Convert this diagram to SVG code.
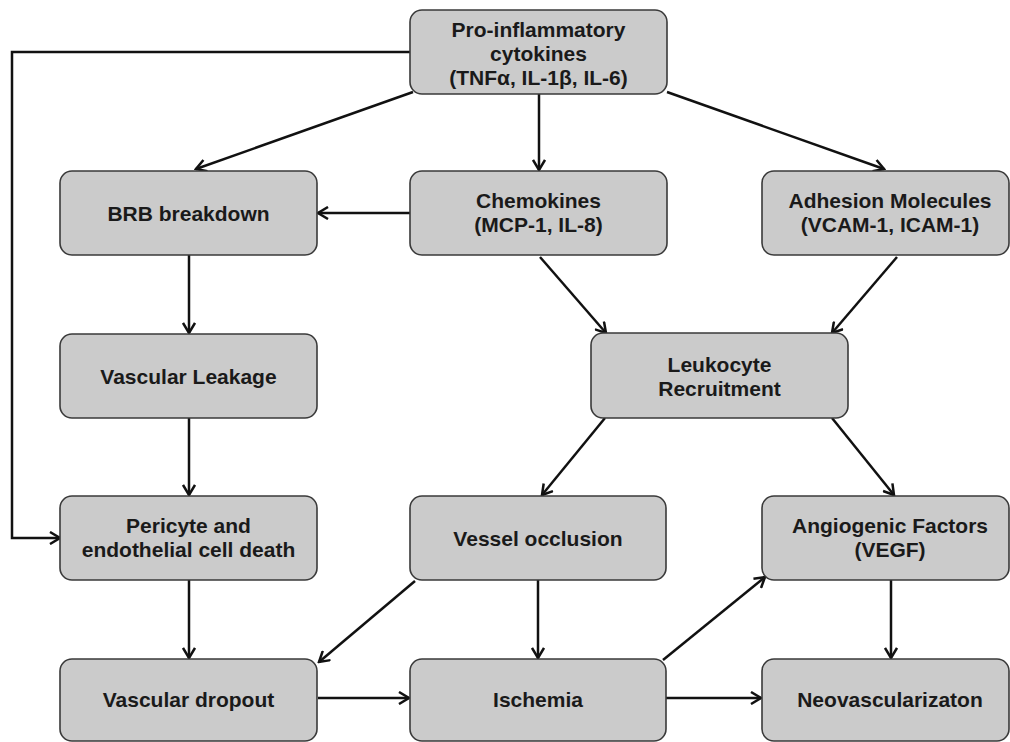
<svg xmlns="http://www.w3.org/2000/svg" width="1010" height="742" viewBox="0 0 1010 742">
<defs>
<style>
.box{fill:#cbcbcb;stroke:#3a3a3a;stroke-width:1.6}
.lbl{font-family:"Liberation Sans",Arial,sans-serif;font-weight:bold;font-size:21px;fill:#1a1a1a;text-anchor:middle}
.edge{fill:none;stroke:#111;stroke-width:2.5;marker-end:url(#arr)}
</style>
<marker id="arr" viewBox="0 0 14 14" refX="12" refY="7" markerWidth="14" markerHeight="14" markerUnits="userSpaceOnUse" orient="auto">
<path d="M2,1 L12,7 L2,13" fill="none" stroke="#111" stroke-width="2.5"/>
</marker>
</defs>
<rect width="1010" height="742" fill="#ffffff"/>
<g id="connectors">
<path class="edge" d="M413,92 L196,169"/>
<path class="edge" d="M539,94 L539,170"/>
<path class="edge" d="M667,92 L884,169"/>
<path class="edge" d="M410,52 L12,52 L12,538 L60,538"/>
<path class="edge" d="M410,213 L318,213"/>
<path class="edge" d="M189,255 L189,333"/>
<path class="edge" d="M540,257 L606,333"/>
<path class="edge" d="M897,257 L832,333"/>
<path class="edge" d="M189,418 L189,495"/>
<path class="edge" d="M605,418 L542,495"/>
<path class="edge" d="M832,418 L894,495"/>
<path class="edge" d="M189,580 L189,658"/>
<path class="edge" d="M415,581 L319,662"/>
<path class="edge" d="M538,580 L538,658"/>
<path class="edge" d="M663,660 L765,577"/>
<path class="edge" d="M891,580 L891,658"/>
<path class="edge" d="M318,698 L409,698"/>
<path class="edge" d="M666,698 L761,698"/>
</g>
<g id="n-cytokines"><rect class="box" x="410" y="10" width="257" height="84" rx="12"/>
<text class="lbl" x="538.5" y="37">Pro-inflammatory</text><text class="lbl" x="538.5" y="61">cytokines</text><text class="lbl" x="538.5" y="85">(TNFα, IL-1β, IL-6)</text></g>
<g id="n-brb"><rect class="box" x="60" y="171" width="257" height="84" rx="12"/>
<text class="lbl" x="188.5" y="220.5">BRB breakdown</text></g>
<g id="n-chemokines"><rect class="box" x="410" y="171" width="257" height="84" rx="12"/>
<text class="lbl" x="538.5" y="208">Chemokines</text><text class="lbl" x="538.5" y="232">(MCP-1, IL-8)</text></g>
<g id="n-adhesion"><rect class="box" x="762" y="171" width="247" height="84" rx="12"/>
<text class="lbl" x="890" y="208">Adhesion Molecules</text><text class="lbl" x="890" y="232">(VCAM-1, ICAM-1)</text></g>
<g id="n-leakage"><rect class="box" x="60" y="334" width="257" height="84" rx="12"/>
<text class="lbl" x="188.5" y="383.5">Vascular Leakage</text></g>
<g id="n-leukocyte"><rect class="box" x="591" y="333" width="257" height="85" rx="12"/>
<text class="lbl" x="719.5" y="372">Leukocyte</text><text class="lbl" x="719.5" y="396">Recruitment</text></g>
<g id="n-pericyte"><rect class="box" x="60" y="496" width="257" height="84" rx="12"/>
<text class="lbl" x="188.5" y="533">Pericyte and</text><text class="lbl" x="188.5" y="557">endothelial cell death</text></g>
<g id="n-vessel"><rect class="box" x="410" y="496" width="256" height="84" rx="12"/>
<text class="lbl" x="538" y="545.5">Vessel occlusion</text></g>
<g id="n-angiogenic"><rect class="box" x="762" y="496" width="247" height="84" rx="12"/>
<text class="lbl" x="890" y="533">Angiogenic Factors</text><text class="lbl" x="890" y="557">(VEGF)</text></g>
<g id="n-dropout"><rect class="box" x="60" y="659" width="257" height="82" rx="12"/>
<text class="lbl" x="188.5" y="707">Vascular dropout</text></g>
<g id="n-ischemia"><rect class="box" x="410" y="659" width="256" height="82" rx="12"/>
<text class="lbl" x="538" y="707">Ischemia</text></g>
<g id="n-neo"><rect class="box" x="762" y="659" width="247" height="82" rx="12"/>
<text class="lbl" x="890" y="707">Neovascularizaton</text></g>
</svg>
